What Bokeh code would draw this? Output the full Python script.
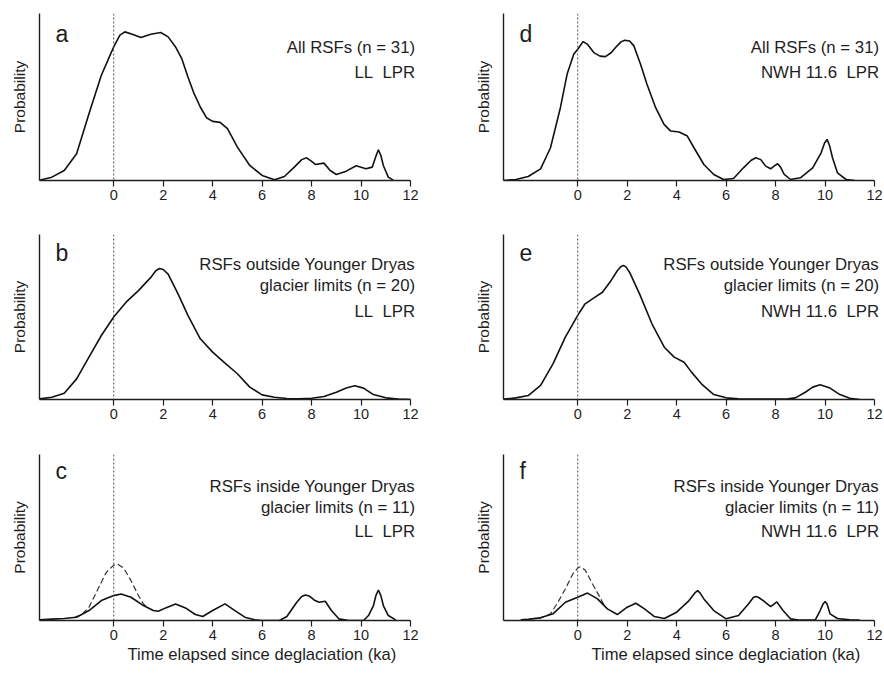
from bokeh.plotting import figure
from bokeh.models import Span, Label, FixedTicker, Range1d, Title
from bokeh.layouts import column, row
from bokeh.embed import file_html
from bokeh.resources import INLINE

# ---------------- data (relative probability, 100 = top of panel) ----------------
ticks_x = [0, 2, 4, 6, 8, 10, 12]

a_x = [-3, -2.5, -2, -1.5, -1, -0.5, 0, 0.25, 0.45, 0.75, 1.1, 1.5, 1.9, 2.2, 2.5, 2.75, 3.0, 3.25, 3.5,
       3.75, 4.0, 4.3, 4.6, 5.0, 5.5, 6.0, 6.5, 6.9, 7.3, 7.6, 7.8, 8.0, 8.15, 8.5, 8.75, 9.0, 9.4, 9.8,
       10.2, 10.45, 10.6, 10.7, 10.8, 10.9, 11.1, 11.3]
a_y = [0.2, 2, 6, 16, 40, 63, 80, 87, 89, 87.6, 85.6, 87.6, 88.6, 86, 80, 73, 62, 52, 44,
       37.6, 35.4, 34.8, 31, 20, 9, 3, 0.4, 2.4, 8, 12.5, 13.6, 11.5, 9.6, 10.4, 6, 3.6, 5.6, 8.8,
       7, 8, 14.5, 18.4, 15, 9, 2, 0.2]

d_x = [-3, -2.5, -2, -1.5, -1.1, -0.7, -0.43, -0.16, 0, 0.22, 0.4, 0.65, 0.9, 1.12, 1.35, 1.53, 1.75,
       1.9, 2.1, 2.27, 2.54, 2.8, 3.15, 3.49, 3.76, 4.1, 4.43, 4.7, 5.1, 5.5, 5.9, 6.3, 6.7, 7.0, 7.2,
       7.4, 7.6, 7.8, 7.95, 8.08, 8.2, 8.35, 8.6, 9.0, 9.5, 9.84, 9.98, 10.08, 10.18, 10.3, 10.5, 10.85, 11.2]
d_y = [0, 0.6, 2.4, 7, 19.6, 43.6, 63.6, 75.6, 78.6, 83.2, 81.5, 76.6, 74.5, 74.2, 76.5, 79.6, 83,
       84, 83.5, 80.6, 69.6, 57.6, 43.6, 33.6, 29.6, 29, 26.6, 19.6, 9.6, 3.6, 0.6, 1.2, 7.6, 12, 13.6,
       12.5, 8.6, 7, 8.8, 10, 8, 3.6, 0.6, 1.6, 7.6, 16.6, 22.5, 24.6, 21, 13.6, 4.6, 0.6, 0]

b_x = [-3, -2.5, -2, -1.5, -1, -0.5, 0, 0.5, 1.0, 1.5, 1.7, 1.85, 2.0, 2.2, 2.6, 3.0, 3.5, 4.0, 4.5,
       5.0, 5.5, 6.0, 6.5, 7.0, 7.5, 8.0, 8.5, 9.0, 9.4, 9.75, 10.1, 10.5, 11.0, 11.5, 12]
b_y = [0.4, 1.4, 3.8, 12.5, 25.7, 38.8, 50, 59, 66, 74, 78, 79.4, 78.8, 76, 64, 51, 36.8, 28.7, 22,
       15.6, 7.5, 2.8, 1.4, 0.6, 0.4, 0.8, 1.8, 4.4, 7, 8.3, 6.9, 3, 1, 0.2, 0]

e_x = [-3, -2.5, -2, -1.5, -1, -0.5, 0, 0.3, 0.7, 1.0, 1.3, 1.6, 1.75, 1.85, 1.95, 2.1, 2.5, 3.0, 3.5,
       3.9, 4.3, 4.6, 5.0, 5.5, 6.0, 6.5, 7.5, 8.5, 8.8, 9.2, 9.5, 9.8, 10.2, 10.6, 11.0, 11.4]
e_y = [0.2, 1, 2.4, 8.5, 21.6, 37.8, 51, 58, 62, 65, 71, 78, 80.6, 81.2, 80.4, 77, 64, 45.9, 31.7,
       25.7, 22.6, 16.6, 9.5, 3, 1, 0.4, 0.3, 0.4, 1, 4.4, 7.5, 8.9, 6.9, 3, 0.8, 0]

c_x = [-3, -2.5, -2, -1.5, -1.0, -0.5, 0, 0.3, 0.7, 1.2, 1.6, 1.8, 2.1, 2.5, 2.9, 3.3, 3.6, 4.0, 4.5,
       4.9, 5.3, 5.7, 6.0, 6.7, 7.0, 7.4, 7.6, 7.75, 7.9, 8.1, 8.3, 8.55, 8.8, 9.1, 9.5, 10.1, 10.3,
       10.5, 10.6, 10.7, 10.8, 10.9, 11.1, 11.4]
c_y = [0.4, 0.8, 1.2, 2, 6, 12, 15, 16, 14, 9, 6, 5.6, 7.6, 10, 7.6, 3.6, 2.4, 6, 10,
       6, 2, 0.4, 0, 0, 2.4, 11, 14.5, 15.4, 14.8, 12.4, 11, 11.6, 6, 1, 0, 0, 3,
       9, 15, 18.4, 15, 9, 3, 0.4]
c_dash_x = [-1.6, -1.3, -1.0, -0.6, -0.3, 0, 0.15, 0.4, 0.7, 1.0, 1.2, 1.3]
c_dash_y = [1.8, 3.6, 8, 20, 29, 33.4, 34, 31.6, 24, 15, 10, 8.6]

f_x = [-2.3, -2, -1.5, -1.0, -0.5, 0, 0.4, 0.8, 1.2, 1.6, 2.0, 2.35, 2.7, 3.1, 3.5, 4.0, 4.5, 4.75, 4.85,
       4.95, 5.1, 5.5, 6.0, 6.5, 6.9, 7.1, 7.2, 7.3, 7.5, 7.8, 8.05, 8.3, 8.6, 9.0, 9.6, 9.8, 9.92, 10.0,
       10.08, 10.2, 10.5, 11.0, 11.4]
f_y = [0.4, 0.8, 1.6, 4, 11, 14, 16.5, 13, 7, 3.6, 8, 10.4, 7, 2.4, 1.2, 5, 12, 16.8, 18,
       16.5, 13, 6, 1, 3, 10, 13.8, 14.4, 14, 12, 8.4, 11.2, 6, 1, 0.2, 0.2, 6, 10, 11.4,
       10, 4, 1.2, 0.4, 0.2]
f_dash_x = [-2.3, -1.5, -1.1, -0.8, -0.5, -0.2, 0, 0.1, 0.3, 0.6, 0.9, 1.05]
f_dash_y = [0.4, 1.6, 4, 11, 19, 28, 31.6, 32.4, 30.4, 22, 14, 9.6]

letters = ["a", "b", "c", "d", "e", "f"]
texts_all = ["All RSFs (n = 31)"]
texts_out = ["RSFs outside Younger Dryas", "glacier limits (n = 20)"]
texts_in = ["RSFs inside Younger Dryas", "glacier limits (n = 11)"]
method_ll = "LL\u00a0 LPR"
method_nwh = "NWH 11.6\u00a0 LPR"
x_title = "Time elapsed since deglaciation (ka)"
y_title = "Probability"

# ---------------- styling ----------------
FONT = "Liberation Sans"
INK = "#1e1e1e"
FRAME_W = 376


def panel(letter, xs, ys, lines, line_offs, letter_off, frame_h, bottom, right,
          dash_x=None, dash_y=None, xlabel=False):
    p = figure(frame_width=FRAME_W, frame_height=frame_h,
               x_range=Range1d(-3, 12.2), y_range=Range1d(0, 100),
               output_backend="svg", toolbar_location=None)
    p.min_border_left = 39
    p.min_border_right = right
    p.min_border_top = 13
    p.min_border_bottom = bottom
    p.outline_line_color = None
    p.grid.visible = False
    p.background_fill_color = "white"
    p.border_fill_color = "white"

    xa = p.xaxis[0]
    xa.ticker = FixedTicker(ticks=ticks_x)
    xa.bounds = (-3, 12)
    xa.major_tick_out = 6
    xa.major_tick_in = 0
    xa.minor_tick_line_color = None
    xa.major_tick_line_color = INK
    xa.major_tick_line_width = 1.2
    xa.axis_line_color = INK
    xa.axis_line_width = 1.4
    xa.major_label_standoff = 3
    xa.major_label_text_font = FONT
    xa.major_label_text_font_size = "14.5px"
    xa.major_label_text_color = INK

    ya = p.yaxis[0]
    ya.ticker = FixedTicker(ticks=[])
    ya.minor_tick_line_color = None
    ya.major_tick_line_color = None
    ya.axis_line_color = INK
    ya.axis_line_width = 1.4
    ya.axis_label = y_title
    ya.axis_label_standoff = 12
    ya.axis_label_text_font = FONT
    ya.axis_label_text_font_size = "15.5px"
    ya.axis_label_text_font_style = "normal"
    ya.axis_label_text_color = INK

    p.add_layout(Span(location=0, dimension="height", line_color="#555555",
                      line_width=1, line_dash="2 2"))

    if dash_x is not None:
        p.line(dash_x, dash_y, line_color="#333333", line_width=1.2, line_dash="6 3")
    p.line(xs, ys, line_color="#111111", line_width=1.6)

    p.add_layout(Label(x=-3, y=100, x_offset=16, y_offset=-letter_off, text=letter,
                       text_font=FONT, text_font_size="23px", text_color=INK,
                       text_baseline="alphabetic", text_align="left"))
    for t, off in zip(lines, line_offs):
        p.add_layout(Label(x=12, y=100, x_offset=4.5, y_offset=-off, text=t,
                           text_font=FONT, text_font_size="16.8px", text_color=INK,
                           text_baseline="alphabetic", text_align="right"))
    if xlabel:
        p.add_layout(Title(text=x_title, align="left", offset=88, standoff=0,
                           text_font=FONT, text_font_size="16.6px", text_font_style="normal",
                           text_color=INK), "below")
    return p


pa = panel(letters[0], a_x, a_y, texts_all + [method_ll], [34, 59], 20, 167, 41, 49)
pd = panel(letters[3], d_x, d_y, texts_all + [method_nwh], [34, 59], 20, 167, 41, 5)
pb = panel(letters[1], b_x, b_y, texts_out + [method_ll], [30.3, 51, 77], 18, 165, 42, 49)
pe = panel(letters[4], e_x, e_y, texts_out + [method_nwh], [30.3, 51, 77], 18, 165, 42, 5)
pc = panel(letters[2], c_x, c_y, texts_in + [method_ll], [32, 52.7, 76.7], 16, 166, 54, 49,
           c_dash_x, c_dash_y, xlabel=True)
pf = panel(letters[5], f_x, f_y, texts_in + [method_nwh], [32, 52.7, 76.7], 16, 166, 54, 5,
           f_dash_x, f_dash_y, xlabel=True)

layout = column(row(pa, pd), row(pb, pe), row(pc, pf))

open("out.html", "w").write(file_html(layout, INLINE))
